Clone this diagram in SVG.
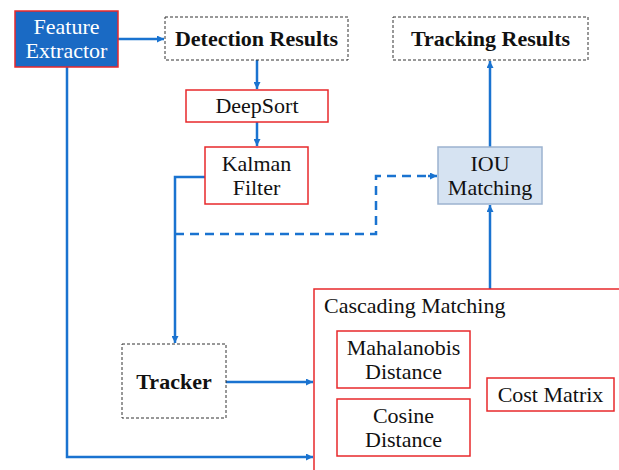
<svg xmlns="http://www.w3.org/2000/svg" width="619" height="470" viewBox="0 0 619 470">
<defs>
<marker id="ah" viewBox="0 0 10 10" refX="10" refY="5" markerWidth="7" markerHeight="7" orient="auto-start-reverse" markerUnits="userSpaceOnUse">
<path d="M0,0 L10,5 L0,10 z" fill="#1a73d0"/>
</marker>
<style>
text{font-family:"Liberation Serif","Times New Roman",serif;font-size:22px;fill:#111;text-anchor:middle}
.b{font-weight:bold}
.red{fill:#fff;stroke:#e8282b;stroke-width:1.5}
.dash{fill:#fff;stroke:#333;stroke-width:1;stroke-dasharray:3,2}
.c{fill:none;stroke:#1a73d0;stroke-width:2.5}
.cd{fill:none;stroke:#1a73d0;stroke-width:2.5;stroke-dasharray:9,6}
</style>
</defs>
<rect width="619" height="470" fill="#fff"/>
<g id="connectors">
<path class="c" d="M118,39 H164" marker-end="url(#ah)"/>
<path class="c" d="M257,60 V89" marker-end="url(#ah)"/>
<path class="c" d="M257,122 V146" marker-end="url(#ah)"/>
<path class="c" d="M205,177 H175 V343" marker-end="url(#ah)"/>
<path class="cd" d="M175,234 H376 V176 H430"/>
<path class="c" d="M428,176 H437" marker-end="url(#ah)"/>
<path class="c" d="M490,147 V61" marker-end="url(#ah)"/>
<path class="c" d="M490,289 V205" marker-end="url(#ah)"/>
<path class="c" d="M226,382 H313" marker-end="url(#ah)"/>
<path class="c" d="M67,67 V457 H313" marker-end="url(#ah)"/>
</g>
<g id="feature-extractor">
<rect x="15" y="11" width="103" height="56" fill="#1a6ac4" stroke="#e8282b" stroke-width="1.5"/>
<text x="66.5" y="34" style="fill:#fff">Feature</text>
<text x="66.5" y="58" style="fill:#fff">Extractor</text>
</g>
<g id="detection-results">
<rect class="dash" x="165" y="17" width="183" height="43"/>
<text class="b" x="256.5" y="46">Detection Results</text>
</g>
<g id="tracking-results">
<rect class="dash" x="393" y="17" width="195" height="43"/>
<text class="b" x="490.5" y="46">Tracking Results</text>
</g>
<g id="deepsort">
<rect class="red" x="186" y="90" width="142" height="32"/>
<text x="257" y="113">DeepSort</text>
</g>
<g id="kalman-filter">
<rect class="red" x="205" y="147" width="103" height="57"/>
<text x="256.5" y="171">Kalman</text>
<text x="256.5" y="195">Filter</text>
</g>
<g id="iou-matching">
<rect x="438" y="147" width="104" height="57" fill="#d6e3f2" stroke="#9cb3cf" stroke-width="1.5"/>
<text x="490" y="171">IOU</text>
<text x="490" y="195">Matching</text>
</g>
<g id="tracker">
<rect class="dash" x="122" y="344" width="104" height="74"/>
<text class="b" x="174" y="389">Tracker</text>
</g>
<g id="cascading-matching">
<rect x="314" y="289" width="320" height="200" fill="none" stroke="#e8282b" stroke-width="1.5"/>
<text x="324" y="313" style="text-anchor:start">Cascading Matching</text>
</g>
<g id="mahalanobis-distance">
<rect class="red" x="337" y="331" width="133" height="57"/>
<text x="403.5" y="355">Mahalanobis</text>
<text x="403.5" y="379">Distance</text>
</g>
<g id="cosine-distance">
<rect class="red" x="337" y="399" width="133" height="57"/>
<text x="403.5" y="423">Cosine</text>
<text x="403.5" y="447">Distance</text>
</g>
<g id="cost-matrix">
<rect class="red" x="487" y="378" width="127" height="33"/>
<text x="550.5" y="402">Cost Matrix</text>
</g>
</svg>
